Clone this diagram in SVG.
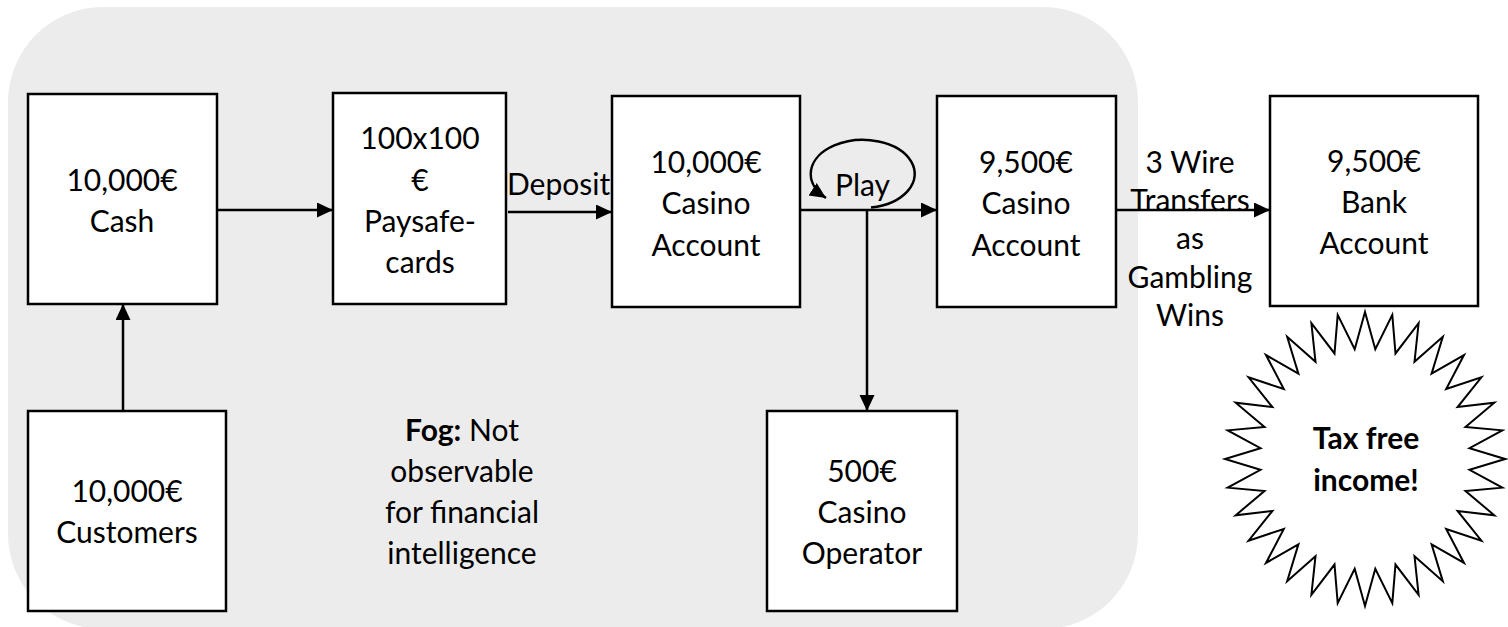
<svg xmlns="http://www.w3.org/2000/svg" width="1508" height="627" viewBox="0 0 1508 627">
<style>
.box{fill:#fff;stroke:#000;stroke-width:2.5}
.t{font-family:Lato,"Open Sans","Liberation Sans",sans-serif;font-size:30px;fill:#000;text-anchor:middle}
.b{font-weight:bold}
.c{fill:none;stroke:#000;stroke-width:2.5}
</style>
<defs>
<marker id="ah" markerUnits="userSpaceOnUse" markerWidth="17" markerHeight="16" refX="16" refY="7.5" orient="auto">
<path d="M0,0 L16,7.5 L0,15 z" fill="#000"/>
</marker>
</defs>
<rect id="fog" x="8" y="7" width="1130" height="622" rx="95" ry="95" fill="#ececec"/>
<g id="connectors">
<path class="c" d="M217,210 H333" marker-end="url(#ah)"/>
<path class="c" d="M508,212 H612" marker-end="url(#ah)"/>
<path class="c" d="M800,210 H937" marker-end="url(#ah)"/>
<path class="c" d="M1116,210 H1270" marker-end="url(#ah)"/>
<path class="c" d="M123,411 V304" marker-end="url(#ah)"/>
<path class="c" d="M867,210 V411" marker-end="url(#ah)"/>
<path class="c" d="M871,207.5 A52 34 0 1 0 826,198" marker-end="url(#ah)"/>
<text class="t" x="507" y="195" style="text-anchor:start">Deposit</text>
<text class="t" x="835" y="196" style="text-anchor:start">Play</text>
<text class="t" x="1190" y="173">3 Wire</text>
<text class="t" x="1190" y="211">Transfers</text>
<text class="t" x="1190" y="249">as</text>
<text class="t" x="1190" y="288">Gambling</text>
<text class="t" x="1190" y="326">Wins</text>
</g>
<g id="cash">
<rect class="box" x="28" y="94" width="189" height="210"/>
<text class="t" x="122" y="191">10,000€</text>
<text class="t" x="122" y="232">Cash</text>
</g>
<g id="paysafe">
<rect class="box" x="333" y="93" width="173" height="211"/>
<text class="t" x="420" y="149">100x100</text>
<text class="t" x="420" y="191">€</text>
<text class="t" x="420" y="232">Paysafe-</text>
<text class="t" x="420" y="273">cards</text>
</g>
<g id="casino1">
<rect class="box" x="612" y="96" width="188" height="211"/>
<text class="t" x="706" y="173">10,000€</text>
<text class="t" x="706" y="214">Casino</text>
<text class="t" x="706" y="256">Account</text>
</g>
<g id="casino2">
<rect class="box" x="937" y="96" width="179" height="211"/>
<text class="t" x="1026" y="173">9,500€</text>
<text class="t" x="1026" y="214">Casino</text>
<text class="t" x="1026" y="256">Account</text>
</g>
<g id="bank">
<rect class="box" x="1270" y="96" width="208" height="210"/>
<text class="t" x="1374" y="172">9,500€</text>
<text class="t" x="1374" y="213">Bank</text>
<text class="t" x="1374" y="254">Account</text>
</g>
<g id="customers">
<rect class="box" x="28" y="411" width="198" height="200"/>
<text class="t" x="127" y="502">10,000€</text>
<text class="t" x="127" y="543">Customers</text>
</g>
<g id="operator">
<rect class="box" x="767" y="411" width="190" height="200"/>
<text class="t" x="862" y="482">500€</text>
<text class="t" x="862" y="523">Casino</text>
<text class="t" x="862" y="564">Operator</text>
</g>
<g id="fogtext">
<text class="t" x="462" y="441"><tspan class="b">Fog:</tspan> Not</text>
<text class="t" x="462" y="482">observable</text>
<text class="t" x="462" y="523">for financial</text>
<text class="t" x="462" y="564">intelligence</text>
</g>
<g id="taxfree">
<polygon transform="translate(1365,459) scale(1,1.05)" fill="#fff" stroke="#000" stroke-width="2" vector-effect="non-scaling-stroke" stroke-linejoin="miter" points="0,-140 10.3,-104.5 27.3,-137.3 30.5,-100.5 53.6,-129.3 49.5,-92.6 77.8,-116.4 66.6,-81.2 99,-99 81.2,-66.6 116.4,-77.8 92.6,-49.5 129.3,-53.6 100.5,-30.5 137.3,-27.3 104.5,-10.3 140,0 104.5,10.3 137.3,27.3 100.5,30.5 129.3,53.6 92.6,49.5 116.4,77.8 81.2,66.6 99,99 66.6,81.2 77.8,116.4 49.5,92.6 53.6,129.3 30.5,100.5 27.3,137.3 10.3,104.5 0,140 -10.3,104.5 -27.3,137.3 -30.5,100.5 -53.6,129.3 -49.5,92.6 -77.8,116.4 -66.6,81.2 -99,99 -81.2,66.6 -116.4,77.8 -92.6,49.5 -129.3,53.6 -100.5,30.5 -137.3,27.3 -104.5,10.3 -140,0 -104.5,-10.3 -137.3,-27.3 -100.5,-30.5 -129.3,-53.6 -92.6,-49.5 -116.4,-77.8 -81.2,-66.6 -99,-99 -66.6,-81.2 -77.8,-116.4 -49.5,-92.6 -53.6,-129.3 -30.5,-100.5 -27.3,-137.3 -10.3,-104.5"/>
<text class="t b" x="1366" y="449">Tax free</text>
<text class="t b" x="1366" y="491">income!</text>
</g>
</svg>
